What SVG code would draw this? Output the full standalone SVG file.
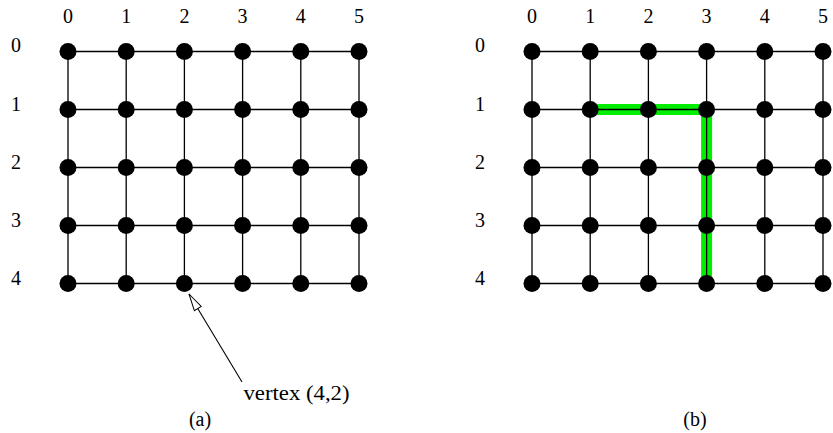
<svg xmlns="http://www.w3.org/2000/svg" width="833" height="433" viewBox="0 0 833 433">
<style>
.g{stroke:#000;stroke-width:1.3;fill:none}
.n{fill:#000}
.hl{stroke:#00ee00;stroke-width:11;fill:none;stroke-linecap:butt}
</style>
<defs>
<g id="grid">
<path class="g" d="M0,0H291M0,58H291M0,116H291M0,174H291M0,232H291M0,0V232M58.2,0V232M116.4,0V232M174.6,0V232M232.8,0V232M291,0V232"/>
</g>
<g id="dots">
<circle class="n" cx="0" cy="0" r="8.5"/><circle class="n" cx="58.2" cy="0" r="8.5"/><circle class="n" cx="116.4" cy="0" r="8.5"/><circle class="n" cx="174.6" cy="0" r="8.5"/><circle class="n" cx="232.8" cy="0" r="8.5"/><circle class="n" cx="291" cy="0" r="8.5"/>
</g>
<marker id="open" markerWidth="20" markerHeight="12" refX="18" refY="5" orient="auto" markerUnits="userSpaceOnUse">
<path d="M1,1 L18,5 L1,9 Z" fill="#fff" stroke="#000" stroke-width="1"/>
</marker>
</defs>
<g id="connectors">
<use href="#grid" x="68" y="51.5"/>
<use href="#grid" x="532" y="51.5"/>
<path id="path-b" class="hl" d="M597,109.5H706.6V283.5"/>
<line class="g" x1="706.6" y1="109.5" x2="706.6" y2="283.5"/>
<line class="g" x1="590.2" y1="109.5" x2="706.6" y2="109.5"/>
<line x1="242" y1="382" x2="189" y2="294" stroke="#000" stroke-width="1.1" marker-end="url(#open)"/>
</g>
<g id="grid-a-nodes">
<use href="#dots" x="68" y="51.5"/>
<use href="#dots" x="68" y="109.5"/>
<use href="#dots" x="68" y="167.5"/>
<use href="#dots" x="68" y="225.5"/>
<use href="#dots" x="68" y="283.5"/>
</g>
<g id="grid-b-nodes">
<use href="#dots" x="532" y="51.5"/>
<use href="#dots" x="532" y="109.5"/>
<use href="#dots" x="532" y="167.5"/>
<use href="#dots" x="532" y="225.5"/>
<use href="#dots" x="532" y="283.5"/>
</g>
<g id="labels-a" font-family="'Liberation Serif', serif" font-size="20" fill="#000" text-anchor="middle">
<text x="68" y="23">0</text><text x="126.2" y="23">1</text><text x="184.4" y="23">2</text><text x="242.6" y="23">3</text><text x="300.8" y="23">4</text><text x="359" y="23">5</text>
<text x="16" y="52">0</text><text x="16" y="111">1</text><text x="16" y="169">2</text><text x="16" y="227">3</text><text x="16" y="285">4</text>
<text x="296.5" y="400" textLength="106" lengthAdjust="spacingAndGlyphs">vertex (4,2)</text>
<text x="200" y="426">(a)</text>
</g>
<g id="labels-b" font-family="'Liberation Serif', serif" font-size="20" fill="#000" text-anchor="middle">
<text x="532" y="23">0</text><text x="590.2" y="23">1</text><text x="648.4" y="23">2</text><text x="706.6" y="23">3</text><text x="764.8" y="23">4</text><text x="823" y="23">5</text>
<text x="480" y="52">0</text><text x="480" y="111">1</text><text x="480" y="169">2</text><text x="480" y="227">3</text><text x="480" y="285">4</text>
<text x="695" y="426">(b)</text>
</g>
</svg>
